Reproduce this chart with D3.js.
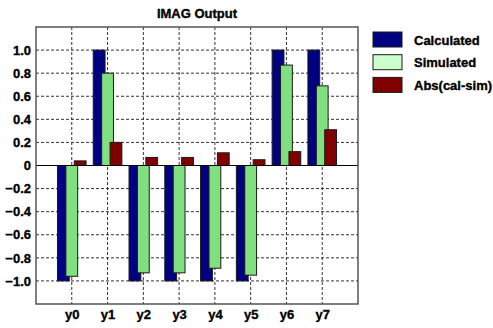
<!DOCTYPE html>
<html>
<head>
<meta charset="utf-8">
<script src="https://cdn.jsdelivr.net/npm/d3@7"></script>
<style>
  html, body { margin: 0; padding: 0; background: #fff; }
  svg { display: block; font-family: "Liberation Sans", Arial, sans-serif; font-weight: bold; }
  svg text { stroke: #000; stroke-width: 0.35px; }
</style>
</head>
<body>
<svg id="chart" width="493" height="328"></svg>
<script>
// Output channels and the three series plotted for each
const categories = ["y0", "y1", "y2", "y3", "y4", "y5", "y6", "y7"];
const calculated = [-1.0, 1.0, -1.0, -1.0, -1.0, -1.0, 1.0, 1.0];
const simulated  = [-0.96, 0.80, -0.93, -0.93, -0.89, -0.95, 0.87, 0.69];
const absDiff    = [0.04, 0.20, 0.07, 0.07, 0.11, 0.05, 0.12, 0.31];
const yTicks = [-1.0, -0.8, -0.6, -0.4, -0.2, 0, 0.2, 0.4, 0.6, 0.8, 1.0];
const seriesNames = ["Calculated", "Simulated", "Abs(cal-sim)"];

const barFill = ["#000080", "#80e080", "#800000"];
const legendFill = ["#000080", "#ccffcc", "#800000"];

const svg = d3.select("#chart");
const plot = { left: 36, top: 27, right: 358, bottom: 304 };

// Categories sit on whole numbers 1..8 with half-gaps at each end
const x = d3.scaleLinear().domain([0, categories.length + 1]).range([plot.left, plot.right]);
const y = d3.scaleLinear().domain([-1.2, 1.2]).range([plot.bottom, plot.top]);

const g = svg.append("g");

// Dashed grid
g.append("g").selectAll("line").data(yTicks.filter(d => d !== 0)).join("line")
  .attr("x1", plot.left).attr("x2", plot.right)
  .attr("y1", d => y(d)).attr("y2", d => y(d))
  .attr("stroke", "#333").attr("stroke-width", 1).attr("stroke-dasharray", "3,2");
g.append("g").selectAll("line").data(categories).join("line")
  .attr("x1", (d, i) => x(i + 1)).attr("x2", (d, i) => x(i + 1))
  .attr("y1", plot.top).attr("y2", plot.bottom)
  .attr("stroke", "#333").attr("stroke-width", 1).attr("stroke-dasharray", "3,2");

// Overlapping grouped bars: each series shifted right of the previous
const series = [calculated, simulated, absDiff];
const groupStart = -0.4, step = 0.235, barW = 0.33;
series.forEach((vals, s) => {
  g.append("g").selectAll("rect").data(vals).join("rect")
    .attr("x", (d, i) => x(i + 1 + groupStart + s * step))
    .attr("width", x(barW) - x(0))
    .attr("y", d => y(Math.max(0, d)))
    .attr("height", d => Math.abs(y(d) - y(0)))
    .attr("fill", barFill[s])
    .attr("stroke", "#1a1a1a").attr("stroke-width", 1);
});

// Zero line
g.append("line")
  .attr("x1", plot.left).attr("x2", plot.right)
  .attr("y1", y(0)).attr("y2", y(0))
  .attr("stroke", "#000").attr("stroke-width", 1);

// Plot frame
g.append("rect")
  .attr("x", plot.left).attr("y", plot.top)
  .attr("width", plot.right - plot.left).attr("height", plot.bottom - plot.top)
  .attr("fill", "none").attr("stroke", "#555").attr("stroke-width", 1.5);

// Y axis labels
const yAxis = d3.axisLeft(y).tickValues(yTicks)
  .tickFormat(d => d === 0 ? "0" : d3.format(".1f")(d))
  .tickSize(0).tickPadding(5);
const ya = svg.append("g").attr("transform", `translate(${plot.left},0)`).call(yAxis);
ya.select(".domain").remove();
ya.selectAll("text").attr("font-size", 13).attr("font-weight", "bold")
  .attr("font-family", "Liberation Sans, Arial, sans-serif").attr("fill", "#000");

// X axis labels
const xAxis = d3.axisBottom(x).tickValues(categories.map((d, i) => i + 1))
  .tickFormat((d, i) => categories[i]).tickSize(0).tickPadding(6);
const xa = svg.append("g").attr("transform", `translate(0,${plot.bottom})`).call(xAxis);
xa.select(".domain").remove();
xa.selectAll("text").attr("font-size", 13).attr("font-weight", "bold")
  .attr("font-family", "Liberation Sans, Arial, sans-serif").attr("fill", "#000");

// Title
svg.append("text")
  .attr("x", (plot.left + plot.right) / 2).attr("y", 18)
  .attr("text-anchor", "middle").attr("font-size", 13)
  .text("IMAG Output");

// Legend
const legend = svg.append("g").attr("transform", "translate(373,32)");
seriesNames.forEach((name, i) => {
  const row = legend.append("g").attr("transform", `translate(0,${i * 22.7})`);
  row.append("rect").attr("width", 29).attr("height", 15)
    .attr("fill", legendFill[i]).attr("stroke", "#1a1a1a").attr("stroke-width", 1);
  row.append("text").attr("x", 41).attr("y", 12.5)
    .attr("font-size", 13).text(name);
});
</script>
</body>
</html>
